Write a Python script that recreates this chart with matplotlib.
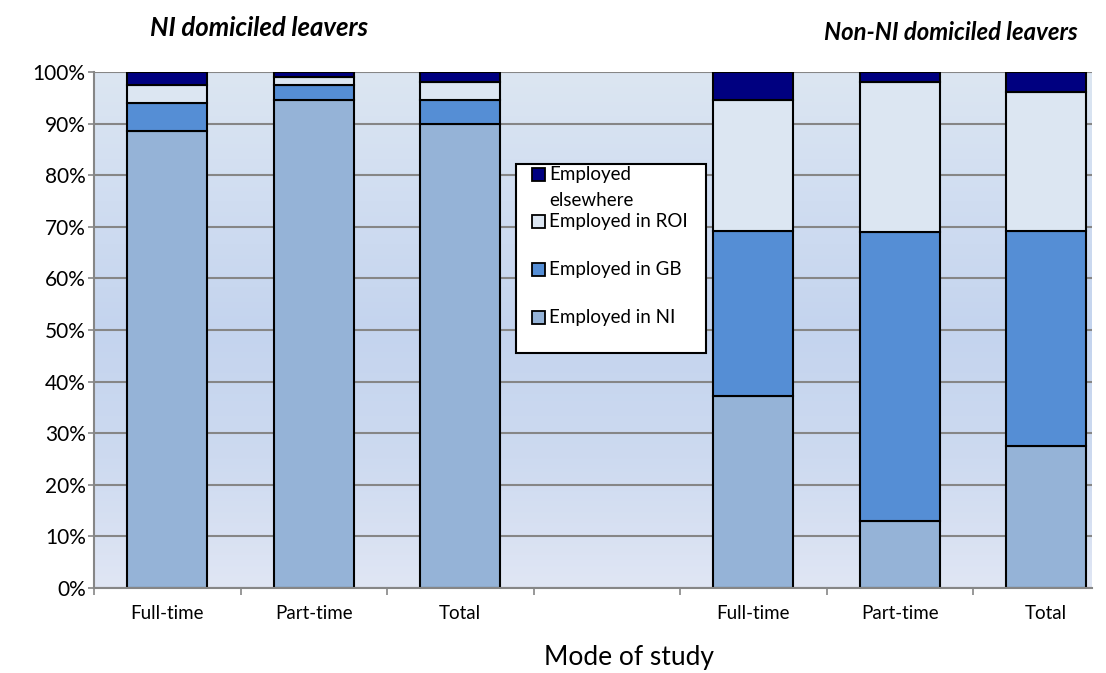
import matplotlib
matplotlib.use("Agg")
import matplotlib.pyplot as plt
import numpy as np
from matplotlib.patches import Rectangle

plt.rcParams['font.family'] = ['Lato', 'DejaVu Sans']

categories = ["Full-time", "Part-time", "Total", "", "Full-time", "Part-time", "Total"]
series_names = ["Employed in NI", "Employed in GB", "Employed in ROI", "Employed elsewhere"]
legend_labels = ["Employed\nelsewhere", "Employed in ROI", "Employed in GB", "Employed in NI"]
employed_ni = [88.6, 94.6, 90.0, 0, 37.3, 13.0, 27.5]
employed_gb = [5.3, 2.9, 4.6, 0, 31.9, 55.9, 41.7]
employed_roi = [3.5, 1.6, 3.4, 0, 25.4, 29.2, 26.9]
employed_else = [2.6, 0.9, 2.0, 0, 5.4, 1.9, 3.9]
colors = ["#95B3D7", "#558ED5", "#DCE6F2", "#000080"]
yticks = [0, 10, 20, 30, 40, 50, 60, 70, 80, 90, 100]

W, H = 1106, 673
fig = plt.figure(figsize=(W / 100, H / 100), dpi=100)
left_px, right_px, top_px, bot_px = 94, 1092, 72, 588
ax = fig.add_axes([left_px / W, 1 - bot_px / H, (right_px - left_px) / W, (bot_px - top_px) / H])

xmax = -0.5 + (right_px - left_px) / 146.5
# gradient background
grad = np.array([[224, 230, 244], [205, 218, 240], [196, 212, 238], [208, 221, 241], [220, 230, 242]]) / 255.0
yy = np.linspace(0, 1, 256)
pts = np.linspace(0, 1, len(grad))
img = np.stack([np.interp(yy, pts, grad[:, c]) for c in range(3)], axis=1)[:, None, :]
ax.imshow(img, extent=[-0.5, xmax, 0, 100], origin='lower', aspect='auto', zorder=0)

x = np.arange(len(categories))
bottom = np.zeros(len(categories))
data = [employed_ni, employed_gb, employed_roi, employed_else]
for vals, col, name in zip(data, colors, series_names):
    v = np.array(vals, dtype=float)
    mask = x != 3
    ax.bar(x[mask], v[mask], bottom=bottom[mask], width=0.546, color=col,
           edgecolor='black', linewidth=1.5, zorder=3, label=name)
    bottom += v

ax.set_yticks(yticks)
ax.set_yticklabels([f"{t}%" for t in yticks], fontsize=15)
ax.yaxis.grid(True, color='#868686', linewidth=1.5, zorder=1)
ax.set_axisbelow(False)
ax.set_xticks(np.arange(-0.5, 6.0, 1.0))
ax.set_xticklabels([])
ax.set_xticks(x, minor=True)
ax.set_xticklabels(categories, minor=True, fontsize=13.5)
ax.set_xlim(-0.5, xmax)
ax.set_ylim(0, 100)
ax.tick_params(axis='x', which='major', length=5, color='#868686', width=1.2, direction='out')
ax.tick_params(axis='x', which='minor', length=0, pad=12)
ax.tick_params(axis='y', length=4, color='#868686', width=1.2, pad=2)
for s in ['top', 'right']:
    ax.spines[s].set_visible(False)
for s in ['left', 'bottom']:
    ax.spines[s].set_color('#868686')
    ax.spines[s].set_linewidth(1.5)
    ax.spines[s].set_zorder(4)

fig.text(629 / W, 1 - 657 / H, "Mode of study", fontsize=19, ha='center', va='center')
fig.text(259 / W, 1 - 28 / H, "NI domiciled leavers", fontsize=18.5, fontweight='bold',
         fontstyle='italic', ha='center', va='center')
fig.text(951 / W, 1 - 33 / H, "Non-NI domiciled leavers", fontsize=17.2, fontweight='bold',
         fontstyle='italic', ha='center', va='center')

# legend box
lx0, ly0, lx1, ly1 = 516, 164, 706, 353
fig.patches.append(Rectangle((lx0 / W, 1 - ly1 / H), (lx1 - lx0) / W, (ly1 - ly0) / H,
                             transform=fig.transFigure, facecolor='white', edgecolor='black',
                             linewidth=1.5, zorder=10))
sq_y = [175, 221.5, 269.5, 317.5]
leg_colors = colors[::-1]
for lab, col, cy in zip(legend_labels, leg_colors, sq_y):
    fig.patches.append(Rectangle((532 / W, 1 - (cy + 6.5) / H), 13 / W, 13 / H,
                                 transform=fig.transFigure, facecolor=col, edgecolor='black',
                                 linewidth=1.3, zorder=11))
    for i, line in enumerate(lab.split("\n")):
        fig.text(549 / W, 1 - (cy + 5.5 + 25 * i) / H, line, fontsize=13.5, ha='left',
                 va='baseline', zorder=12)

fig.savefig("out.png", dpi=100)
